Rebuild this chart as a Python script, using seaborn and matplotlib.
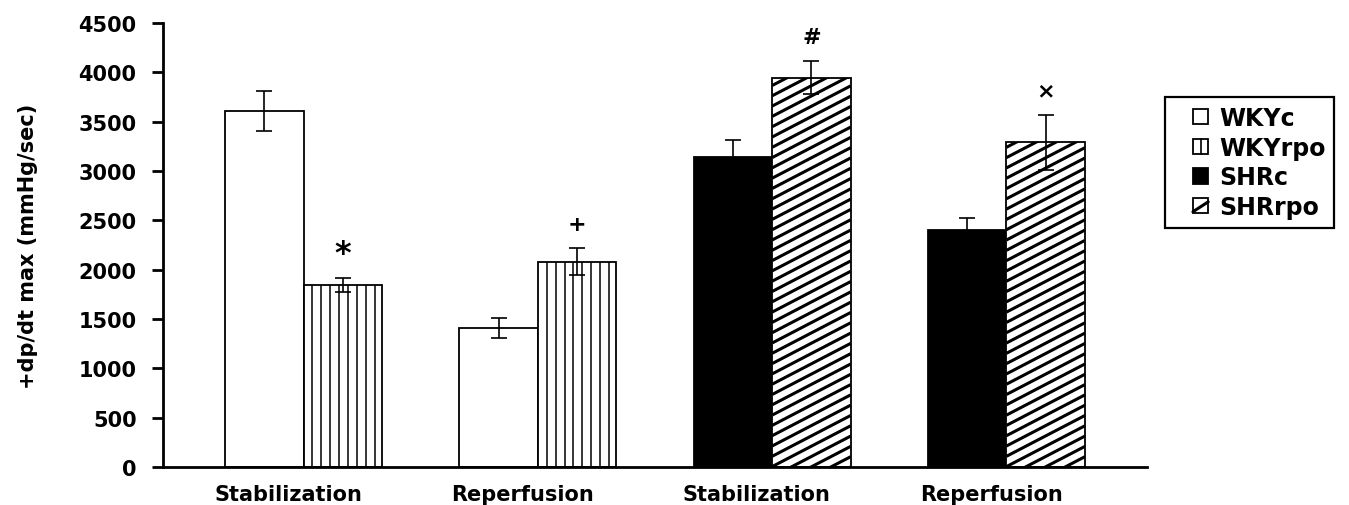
import numpy as np
import pandas as pd
import matplotlib
matplotlib.use("Agg")
import matplotlib.pyplot as plt
import seaborn as sns
from matplotlib.collections import LineCollection
from matplotlib.patches import Patch, Rectangle
from matplotlib.lines import Line2D
from matplotlib.legend_handler import HandlerBase
from matplotlib.transforms import IdentityTransform

# ---- data -------------------------------------------------------------
phases = ["Stabilization", "Reperfusion", "Stabilization", "Reperfusion"]
strains = ["WKY", "WKY", "SHR", "SHR"]
control_mean = [3610, 1410, 3140, 2400]
control_sem = [200, 105, 170, 120]
rpo_mean = [1845, 2080, 3945, 3290]
rpo_sem = [70, 135, 165, 275]
rpo_marks = ["*", "+", "#", "\u00d7"]
series_names = ["WKYc", "WKYrpo", "SHRc", "SHRrpo"]
y_label = "+dp/dt max (mmHg/sec)"
y_ticks = [0, 500, 1000, 1500, 2000, 2500, 3000, 3500, 4000, 4500]

slots = [f"{s} {p}" for s, p in zip(strains, phases)]
df = pd.DataFrame({
    "slot": slots + slots,
    "cond": ["c"] * 4 + ["rpo"] * 4,
    "value": control_mean + rpo_mean,
})

# ---- style ------------------------------------------------------------
sns.set_style("white")
plt.rcParams["font.family"] = ["DejaVu Sans"]
plt.rcParams["text.color"] = "black"
plt.rcParams["axes.labelcolor"] = "black"
FS = 15

W, H, DPI = 1349, 506, 100
fig = plt.figure(figsize=(W / DPI, H / DPI), dpi=DPI)
ax = fig.add_axes([163 / W, 1 - 468 / H, (1147 - 163) / W, (468 - 24) / H])

sns.barplot(data=df, x="slot", y="value", hue="cond", order=slots,
            hue_order=["c", "rpo"], palette=["white", "white"], saturation=1,
            width=0.67, dodge=True, errorbar=None, legend=False,
            edgecolor="black", linewidth=1.3, ax=ax)

ax.set_xlim(-0.6, 3.6)
ax.set_ylim(0, 4500)
ax.set_yticks(y_ticks)
ax.set_yticklabels([str(t) for t in y_ticks], fontsize=FS, fontweight="bold")
# category labels sit a little left of the group centres (ticks are hidden)
ax.set_xticks([i - 0.065 for i in range(4)])
ax.set_xticklabels(phases, fontsize=FS, fontweight="bold")
ax.set_xlabel("")
ax.set_ylabel(y_label, fontsize=FS, fontweight="bold", va="center", color="black")
ax.yaxis.set_label_coords(-0.137, 0.5)
for side in ("top", "right"):
    ax.spines[side].set_visible(False)
for side in ("left", "bottom"):
    ax.spines[side].set_linewidth(2.0)
    ax.spines[side].set_color("black")
ax.tick_params(axis="y", direction="out", length=8, width=2.0, pad=11,
               left=True, colors="black")
ax.tick_params(axis="x", length=0, pad=12, colors="black")

ctrl_bars = list(ax.containers[0])
rpo_bars = list(ax.containers[1])


def stripe_bar(bar, kind):
    """Fill a bar with black stripes drawn in pixel space, clipped to the bar."""
    (x0, y0), (x1, y1) = ax.transData.transform(
        [[bar.get_x(), bar.get_y()],
         [bar.get_x() + bar.get_width(), bar.get_y() + bar.get_height()]])
    segs = []
    if kind == "vertical":
        step = 8.9
        x = x0 + step
        while x < x1 - 1:
            segs.append([(x, y0), (x, y1)])
            x += step
        lw = 1.1
    else:
        step, slope = 10.3, 0.52
        c = y0 - slope * (x1 - x0) - step
        while c < y1 + step:
            segs.append([(x0, c), (x1, c + slope * (x1 - x0))])
            c += step
        lw = 2.2
    lc = LineCollection(segs, colors="black", linewidths=lw,
                        transform=IdentityTransform(), zorder=bar.get_zorder() + 0.1)
    lc.set_clip_path(bar)
    fig.add_artist(lc)


for i, strain in enumerate(strains):
    cb, rb = ctrl_bars[i], rpo_bars[i]
    cb.set_facecolor("black" if strain == "SHR" else "white")
    stripe_bar(rb, "vertical" if strain == "WKY" else "diagonal")

# error bars
cx = [b.get_x() + b.get_width() / 2 for b in ctrl_bars]
rx = [b.get_x() + b.get_width() / 2 for b in rpo_bars]
for xs, m, e in ((cx, control_mean, control_sem), (rx, rpo_mean, rpo_sem)):
    ax.errorbar(xs, m, yerr=e, fmt="none", ecolor="black", elinewidth=1.2,
                capsize=6, capthick=1.2, zorder=5)

# significance marks above the rpo bars (the asterisk glyph is set larger)
mark_size = {"*": 23}
for x, m, e, mark in zip(rx, rpo_mean, rpo_sem, rpo_marks):
    ax.text(x, m + e + 250, mark, ha="center", va="center",
            fontsize=mark_size.get(mark, 16), fontweight="bold",
            color="black", zorder=6)


# legend: small square swatches sitting at the right end of each handle box
class SwatchHandler(HandlerBase):
    def __init__(self, face, inner=None):
        super().__init__()
        self.face, self.inner = face, inner

    def create_artists(self, legend, orig_handle, xdescent, ydescent,
                       width, height, fontsize, trans):
        side = min(width, height)
        x0 = -xdescent + width - side
        y0 = -ydescent + (height - side) / 2
        arts = [Rectangle((x0, y0), side, side, facecolor=self.face,
                          edgecolor="black", linewidth=1.3, transform=trans)]
        if self.inner == "vertical":
            arts.append(Line2D([x0 + side / 2] * 2, [y0, y0 + side],
                               color="black", linewidth=1.2, transform=trans))
        elif self.inner == "diagonal":
            arts.append(Line2D([x0, x0 + side], [y0 + side * 0.1, y0 + side * 0.75],
                               color="black", linewidth=2.2, transform=trans))
        return arts


swatches = [SwatchHandler("white"), SwatchHandler("white", "vertical"),
            SwatchHandler("black"), SwatchHandler("white", "diagonal")]
handles = [Patch(label=n) for n in series_names]
leg = ax.legend(handles, series_names, loc="upper left",
                handler_map={h: s for h, s in zip(handles, swatches)},
                bbox_to_anchor=(1165 / W, 1 - 98 / H), bbox_transform=fig.transFigure,
                borderaxespad=0, frameon=True, fancybox=False, framealpha=1,
                edgecolor="black", handlelength=1.45, handleheight=0.62,
                handletextpad=0.45, labelspacing=0.24, borderpad=0.38,
                prop={"weight": "bold", "size": 17})
leg.get_frame().set_linewidth(1.6)
for t in leg.get_texts():
    t.set_color("black")

fig.savefig("out.png", dpi=DPI, facecolor="white")
